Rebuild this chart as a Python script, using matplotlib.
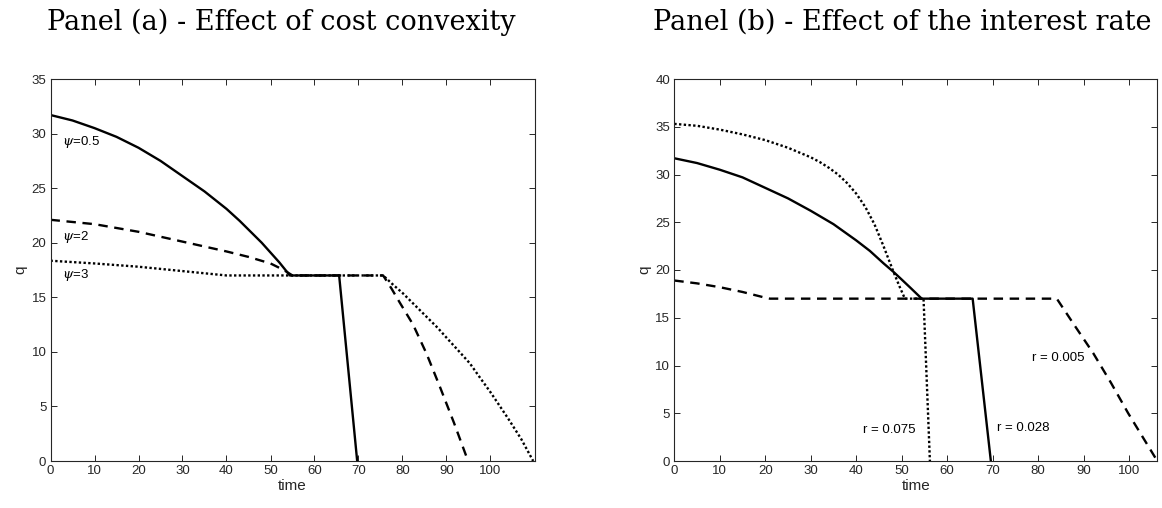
import matplotlib
matplotlib.use("Agg")
import matplotlib.pyplot as plt

# ---------------- data: Panel (a) ----------------
t_psi05 = [0, 5, 10, 15, 20, 25, 30, 35, 40, 43, 46, 48, 50, 52, 54.4, 60, 65.6, 69.7]
q_psi05 = [31.7, 31.2, 30.5, 29.7, 28.7, 27.5, 26.1, 24.7, 23.1, 22.0, 20.8, 20.0, 19.1, 18.2, 17.0, 17.0, 17.0, 0]

t_psi2 = [0, 10, 20, 30, 40, 45, 50, 53, 55, 60, 70, 75.6, 77.5, 79.4, 82.4, 85.5, 88.5, 91.7, 94.9]
q_psi2 = [22.1, 21.7, 21.0, 20.1, 19.2, 18.7, 18.1, 17.5, 17.0, 17, 17, 17, 15.8, 14.5, 12.5, 9.8, 6.8, 3.5, 0]

t_psi3 = [0, 10, 20, 30, 35, 40, 50, 60, 70, 75.6, 78, 80, 82.5, 85.5, 88, 90, 92.5, 95.3, 97.5, 100, 102, 104, 107, 109.7]
q_psi3 = [18.35, 18.1, 17.8, 17.4, 17.2, 17.0, 17, 17, 17, 17, 16.1, 15.4, 14.4, 13.2, 12.2, 11.3, 10.2, 8.95, 7.7, 6.3, 5.1, 3.9, 2.0, 0]

labels_a = [r"$\psi$=0.5", r"$\psi$=2", r"$\psi$=3"]
label_a_t = [2.5, 2.5, 2.5]
label_a_q = [29.2, 20.55, 17.0]

# ---------------- data: Panel (b) ----------------
t_r028 = [0, 5, 10, 15, 20, 25, 30, 35, 40, 43, 46, 48.2, 50, 52, 54.4, 60, 65.6, 69.6]
q_r028 = [31.7, 31.2, 30.5, 29.7, 28.6, 27.5, 26.2, 24.8, 23.1, 22.0, 20.7, 19.8, 19.0, 18.1, 17.0, 17.0, 17.0, 0]

t_r075 = [0, 5, 10, 15, 20, 25, 30, 32, 34, 36, 38, 40, 42, 44, 46, 48.2, 49.5, 50.7, 52, 54.8, 56.2]
q_r075 = [35.3, 35.1, 34.7, 34.2, 33.6, 32.8, 31.8, 31.3, 30.7, 30.0, 29.1, 28.0, 26.6, 24.8, 22.5, 19.8, 18.3, 17.0, 17.0, 17.0, 0]

t_r005 = [0, 5, 10, 15, 20, 21, 50, 84.1, 88, 92.1, 96, 99.8, 103, 106.2]
q_r005 = [18.9, 18.6, 18.2, 17.7, 17.1, 17.0, 17.0, 17.0, 14.2, 11.3, 8.2, 5.0, 2.5, 0]

labels_b = ["r = 0.075", "r = 0.028", "r = 0.005"]
label_b_t = [41.6, 71.0, 78.6]
label_b_q = [3.25, 3.5, 10.75]

titles = ["Panel (a) - Effect of cost convexity", "Panel (b) - Effect of the interest rate"]
xticks = [0, 10, 20, 30, 40, 50, 60, 70, 80, 90, 100]

# ---------------- figure ----------------
W, H = 1162, 508
fig = plt.figure(figsize=(W / 100, H / 100), dpi=100)
plt.rcParams["font.family"] = ["Liberation Sans", "DejaVu Sans"]
plt.rcParams["mathtext.fontset"] = "dejavuserif"

axc = "#262626"
lw = 1.7
dash = (0, (4.0, 2.8))
dot = (0, (1.0, 1.0))


def px_axes(l, r, t, b):
    return [l / W, 1 - b / H, (r - l) / W, (b - t) / H]


axA = fig.add_axes(px_axes(50.5, 534.5, 79, 461))
axB = fig.add_axes(px_axes(674.3, 1157.3, 79, 461))

axA.plot(t_psi05, q_psi05, color="black", lw=lw, ls="-")
axA.plot(t_psi2, q_psi2, color="black", lw=lw, ls=dash)
axA.plot(t_psi3, q_psi3, color="black", lw=lw, ls=dot)
for s, x, y in zip(labels_a, label_a_t, label_a_q):
    axA.text(x, y, s, fontsize=9.5, va="center", ha="left", color="black")

axB.plot(t_r028, q_r028, color="black", lw=lw, ls="-")
axB.plot(t_r075, q_r075, color="black", lw=lw, ls=dot)
axB.plot(t_r005, q_r005, color="black", lw=lw, ls=dash)
for s, x, y in zip(labels_b, label_b_t, label_b_q):
    axB.text(x, y, s, fontsize=9.5, va="center", ha="left", color="black")

axA.set_xlim(0, 110)
axA.set_ylim(0, 35)
axB.set_xlim(0, 106.2)
axB.set_ylim(0, 40)

for ax in (axA, axB):
    ax.set_xticks(xticks)
    ax.tick_params(direction="in", top=True, right=True, length=4.5, width=0.7,
                   colors=axc, labelsize=9.5, labelcolor=axc, pad=3)
    for sp in ax.spines.values():
        sp.set_color(axc)
        sp.set_linewidth(0.8)
    ax.set_xlabel("time", fontsize=11, color=axc, labelpad=1)
    ax.set_ylabel("q", fontsize=11, color=axc, labelpad=3)

fig.text(281 / W, 1 - 22 / H, titles[0], ha="center", va="center",
         fontsize=19.5, family="DejaVu Serif", color="black")
fig.text(902 / W, 1 - 22 / H, titles[1], ha="center", va="center",
         fontsize=19.5, family="DejaVu Serif", color="black")

fig.savefig("out.png", dpi=100)
